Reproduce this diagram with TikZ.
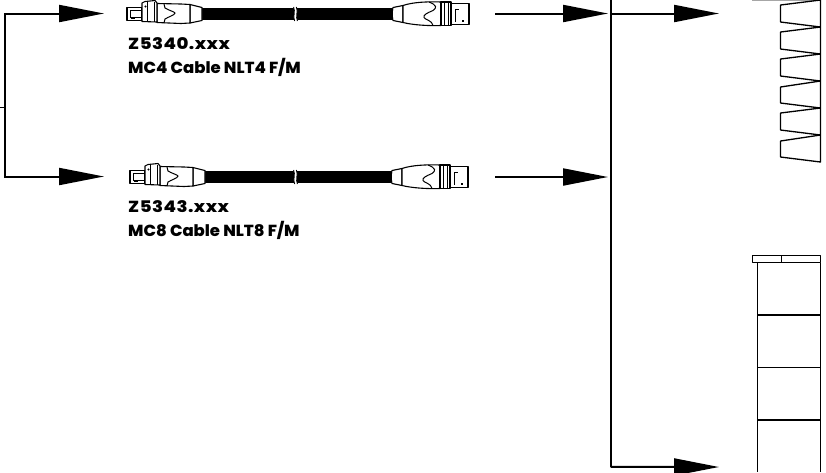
\documentclass[tikz,border=0pt]{standalone}
\usepackage{fontspec}
\setmainfont{Poppins}
\newfontfamily\labelfont[FakeStretch=1.03]{Poppins ExtraBold}
\newfontfamily\codefont[LetterSpace=3.0,FakeStretch=1.13]{Poppins ExtraBold}
\usetikzlibrary{arrows.meta}
\tikzset{
  wire/.style={line width=2pt,-{Triangle[length=45pt,width=17pt]},shorten >=0pt},
  plainwire/.style={line width=2pt},
  part/.style={line width=1.1pt,line join=round,draw=black,fill=white},
  thin part/.style={line width=1pt,draw=black},
  cabletext/.style={anchor=base west,inner sep=0pt,font=\fontsize{16pt}{18pt}\selectfont\labelfont},
  codetext/.style={anchor=base west,inner sep=0pt,font=\fontsize{16pt}{18pt}\selectfont\codefont},
  panel/.style={line width=1.3pt,draw=black,line join=round}
}
\newcommand{\cablepic}[3]{% y centre, left shift, right shift
  \begin{scope}[shift={(0,#1)}]
    % cable
    \fill[black] (#2+204,-5.6) rectangle (#3+396,5.6);
    \fill[white] (293.6,-7) .. controls (295.6,-3) and (292.6,3) .. (294.6,7) -- (297.4,7) .. controls (295.4,3) and (298.4,-3) .. (296.4,-7) -- cycle;
    \draw[line width=0.9pt] (293.6,-7) .. controls (295.6,-3) and (292.6,3) .. (294.6,7);
    \draw[line width=0.9pt] (296.4,-7) .. controls (298.4,-3) and (295.4,3) .. (297.4,7);
    % plug at left
    \begin{scope}[xshift=#2*1pt]
      \draw[part] (130,-6.5) rectangle (145,6.5);
      \draw[thin part] (145,-3.5) -- (133,-3.5) -- (133,3.5) -- (145,3.5);
      \draw[thin part] (134,4.8) -- (138,4.8);
      \draw[part] (193,-9.5) -- (205,-6.5) -- (205,6.5) -- (193,9) -- cycle;
      \draw[part] (160,-10.5) -- (184,-10) -- (193,-9.5) -- (193,9) -- (184,9.5) -- (160,8.5) -- cycle;
      \draw[part] (145,-11) -- (148,-12.5) -- (158,-13.5) -- (160,-11) -- (160,8) -- (145,7.5) -- cycle;
      \draw[thin part] (150,-12) -- (150,7.5) (157,-12.5) -- (157,8);
      \fill (148.5,-7.5) circle (1.2pt);
      \draw[thin part] (167,-10) -- (168,-6) .. controls (171,-4) and (178,-2) .. (178,-1) .. controls (178,1) and (171,3) .. (168,5) -- (167,9);
    \end{scope}
    % connector at right
    \begin{scope}[xshift=#3*1pt]
      \draw[part] (402,-8.5) -- (392,-6.5) .. controls (391,-2) and (391,2) .. (392,6.5) -- (402,8.5) -- cycle;
      \draw[part] (402,-8.5) .. controls (412,-12) and (428,-12.5) .. (440,-12) -- (440,11.5) .. controls (428,12) and (412,11) .. (402,8.5) -- cycle;
      \draw[thin part] (428,-12) .. controls (436,-9) and (436,-6) .. (432,-3.5) .. controls (426,-1) and (422,1) .. (423,3.5) .. controls (424,6) and (431,6) .. (432,11.5);
      \draw[part] (440,-12) rectangle (450,11.5);
      \draw[thin part] (443,-12) -- (443,11.5) (447,-12) -- (447,11.5);
      \draw[part] (450,-10.5) rectangle (468,10.5);
      \draw[line width=1.6pt] (454.5,7.5) -- (454.5,-4.5) -- (458,-4.5);
      \fill (460.5,6) rectangle (463,8);
    \end{scope}
  \end{scope}
}
\begin{document}
\begin{tikzpicture}[x=1pt,y=-1pt]
\useasboundingbox (0,0) rectangle (826,472);
\clip (0,0) rectangle (826,472);
\fill[white] (0,0) rectangle (826,472);
% named points
\coordinate (stub) at (0,107);
\coordinate (splitA) at (4.5,13.5);
\coordinate (splitB) at (4.5,176.5);
\coordinate (splitM) at (4.5,107);
\coordinate (plugA) at (104,13.5);
\coordinate (plugB) at (104,176.5);
\coordinate (endA) at (495,13.5);
\coordinate (endB) at (495,177);
\coordinate (busAin) at (608,13.5);
\coordinate (busBin) at (608,177);
\coordinate (busTop) at (610.5,0);
\coordinate (busA) at (610.5,13.5);
\coordinate (busEnd) at (610.5,467);
\coordinate (outA) at (719,13.5);
\coordinate (outB) at (719,467);
% cables
\cablepic{14}{-3}{1}
\cablepic{177}{0}{0}
% left split
\draw[line width=0.8pt] (stub) -- (splitM);
\draw[wire] (splitM) -- (splitA) -- (plugA);
\draw[wire] (splitM) -- (splitB) -- (plugB);
% middle
\draw[wire] (endA) -- (busAin);
\draw[wire] (endB) -- (busBin);
\draw[plainwire,line cap=butt] (busTop) -- (busEnd);
\draw[wire] (busA) -- (outA);
\draw[wire] (610.5,466.9) -- (outB);
\draw[plainwire,line join=miter] (busEnd) -- (630,467);
% labels
\node[codetext] (labA1) at (128,49) {Z5340.xxx};
\node[cabletext] (labA2) at (128,73) {MC4 Cable NLT4 F/M};
\node[codetext] (labB1) at (128,212) {Z5343.xxx};
\node[cabletext] (labB2) at (128,236.5) {MC8 Cable NLT8 F/M};
% upper right zigzag
\draw[gray!70,line width=1pt] (752,0.3) -- (820.5,0.3);
\draw[panel] (820.5,0) -- (780.5,5) -- (780.5,22) -- (820.5,27) -- (780.5,32) -- (780.5,49) -- (820.5,54) -- (780.5,59) -- (780.5,76) -- (820.5,81) -- (780.5,87) -- (780.5,103) -- (820.5,108) -- (780.5,113) -- (780.5,130) -- (820.5,135) -- (780.5,141) -- (780.5,157) -- (820.5,162) -- cycle;
% lower right stack
\draw[panel] (752.5,255.7) rectangle (820.7,262.5);
\draw[panel] (781.7,255.7) -- (781.7,262.5);
\draw[panel] (757.7,262.5) -- (757.7,472);
\draw[panel] (820.7,262.5) -- (820.7,472);
\draw[panel] (757.7,315) -- (820.7,315);
\draw[panel] (757.7,367.3) -- (820.7,367.3);
\draw[panel] (757.7,420) -- (820.7,420);
\end{tikzpicture}
\end{document}
